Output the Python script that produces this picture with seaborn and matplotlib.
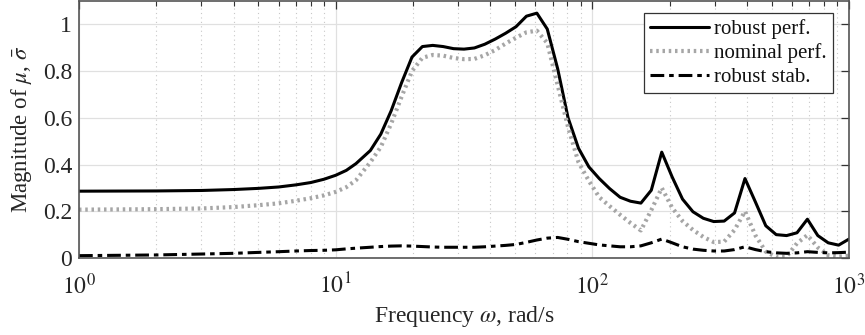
import numpy as np
import pandas as pd
import matplotlib
matplotlib.use("Agg")
import matplotlib.pyplot as plt
import seaborn as sns
from matplotlib.ticker import LogLocator, FixedLocator, NullFormatter

freq = [1, 2, 3, 4, 5, 6, 7, 8, 9, 10, 11, 12,
        13.65, 14.99, 16.45, 18.06, 19.83, 21.77, 23.89, 26.23, 28.80, 31.62,
        34.71, 38.11, 41.84, 45.94, 50.43, 55.37, 60.79, 66.74, 73.27, 80.44,
        88.31, 96.94, 106.4, 116.8, 128.3, 140.8, 154.6, 169.7, 186.4, 204.6,
        224.6, 246.6, 270.7, 297.2, 326.3, 358.2, 393.3, 431.8, 474.0, 520.4,
        571.3, 627.2, 688.5, 755.9, 829.8, 911.0, 1000]

robust_perf = [0.286, 0.287, 0.289, 0.293, 0.298, 0.304, 0.313, 0.323, 0.337, 0.354, 0.375, 0.404,
               0.46, 0.53, 0.63, 0.75, 0.86, 0.905, 0.91, 0.905, 0.896, 0.894,
               0.899, 0.915, 0.937, 0.962, 0.99, 1.035, 1.048, 0.98, 0.81, 0.60,
               0.47, 0.39, 0.34, 0.297, 0.26, 0.243, 0.235, 0.29, 0.453, 0.347,
               0.252, 0.198, 0.17, 0.156, 0.158, 0.193, 0.34, 0.24, 0.138, 0.10,
               0.096, 0.108, 0.166, 0.096, 0.065, 0.055, 0.081]

nominal_perf = [0.207, 0.209, 0.212, 0.218, 0.226, 0.234, 0.245, 0.256, 0.268, 0.283, 0.303, 0.333,
                0.41, 0.475, 0.575, 0.69, 0.80, 0.857, 0.869, 0.866, 0.856, 0.851,
                0.852, 0.868, 0.89, 0.918, 0.943, 0.966, 0.973, 0.92, 0.74, 0.56,
                0.41, 0.33, 0.26, 0.222, 0.185, 0.15, 0.118, 0.205, 0.30, 0.215,
                0.158, 0.12, 0.09, 0.068, 0.07, 0.12, 0.20, 0.097, 0.027, 0.005,
                0.006, 0.063, 0.098, 0.045, 0.012, 0.006, 0.01]

robust_stab = [0.010, 0.013, 0.017, 0.020, 0.024, 0.027, 0.030, 0.032, 0.033, 0.035, 0.039, 0.042,
               0.046, 0.049, 0.051, 0.052, 0.051, 0.049, 0.047, 0.046, 0.046, 0.046,
               0.046, 0.048, 0.051, 0.054, 0.058, 0.067, 0.077, 0.085, 0.088, 0.08,
               0.07, 0.063, 0.056, 0.052, 0.048, 0.048, 0.052, 0.065, 0.081, 0.065,
               0.048, 0.038, 0.033, 0.030, 0.030, 0.036, 0.048, 0.036, 0.027, 0.022,
               0.020, 0.022, 0.027, 0.024, 0.022, 0.023, 0.025]

series_labels = ["robust perf.", "nominal perf.", "robust stab."]
y_ticks = [0, 0.2, 0.4, 0.6, 0.8, 1]
y_tick_labels = ["0", "0.2", "0.4", "0.6", "0.8", "1"]
x_ticks = [1, 10, 100, 1000]
x_tick_labels = [r"$10^0$", r"$10^1$", r"$10^2$", r"$10^3$"]

sns.set_theme(style="white")
plt.rcParams["font.family"] = ["Liberation Serif", "DejaVu Serif"]
plt.rcParams["mathtext.fontset"] = "stix"

fig = plt.figure(figsize=(8.65, 3.35), dpi=100)
ax = fig.add_axes([79 / 865, 1 - 258 / 335, 770 / 865, 257 / 335])

df = pd.DataFrame({"freq": freq, "rp": robust_perf, "np": nominal_perf, "rs": robust_stab})

sns.lineplot(data=df, x="freq", y="rp", ax=ax, color="black", lw=2.2,
             label=series_labels[0])
sns.lineplot(data=df, x="freq", y="np", ax=ax, color="#a6a6a6", lw=3.0,
             linestyle=(0, (0.6, 0.9)), label=series_labels[1])
sns.lineplot(data=df, x="freq", y="rs", ax=ax, color="black", lw=2.2,
             linestyle=(0, (4.5, 1.6, 1.5, 1.6)), label=series_labels[2])

ax.set_xscale("log")
ax.set_xlim(1, 1000)
ax.set_ylim(0, 1.1)
ax.xaxis.set_major_locator(FixedLocator(x_ticks))
ax.set_xticklabels(x_tick_labels)
ax.xaxis.set_minor_locator(LogLocator(base=10, subs=np.arange(2, 10), numticks=20))
ax.xaxis.set_minor_formatter(NullFormatter())
ax.set_yticks(y_ticks)
ax.set_yticklabels(y_tick_labels)

ax.grid(True, which="major", axis="both", color="#e0e0e0", lw=0.9, ls="-")
ax.grid(True, which="minor", axis="x", color="#c8c8c8", lw=0.8, ls=(0, (1, 3)))
ax.set_axisbelow(True)

for sp in ax.spines.values():
    sp.set_color("#555555")
    sp.set_linewidth(1.2)

ax.tick_params(axis="both", which="both", direction="in", top=True, right=True,
               colors="#333333", labelcolor="#262626", labelsize=17)
ax.tick_params(axis="both", which="major", length=6, width=0.9)
ax.tick_params(axis="x", which="minor", length=3.5, width=0.8)
ax.tick_params(axis="x", which="major", pad=11)
ax.tick_params(axis="y", which="major", pad=5)

ax.set_xlabel(r"Frequency $\omega$, rad/s", fontsize=17, color="#262626", labelpad=4)
ax.set_ylabel(r"Magnitude of $\mu$, $\bar{\sigma}$", fontsize=16.5, color="#262626")
ax.yaxis.set_label_coords(-0.059, 0.5)

leg = ax.legend(loc="upper right", bbox_to_anchor=(0.979, 0.953), fontsize=15,
                frameon=True, fancybox=False, edgecolor="#333333", framealpha=1,
                handlelength=2.8, handletextpad=0.25, borderpad=0.3, labelspacing=0.2,
                borderaxespad=0)
leg.get_frame().set_linewidth(0.9)
for t in leg.get_texts():
    t.set_color("#111111")

fig.savefig("out.png", dpi=100)
